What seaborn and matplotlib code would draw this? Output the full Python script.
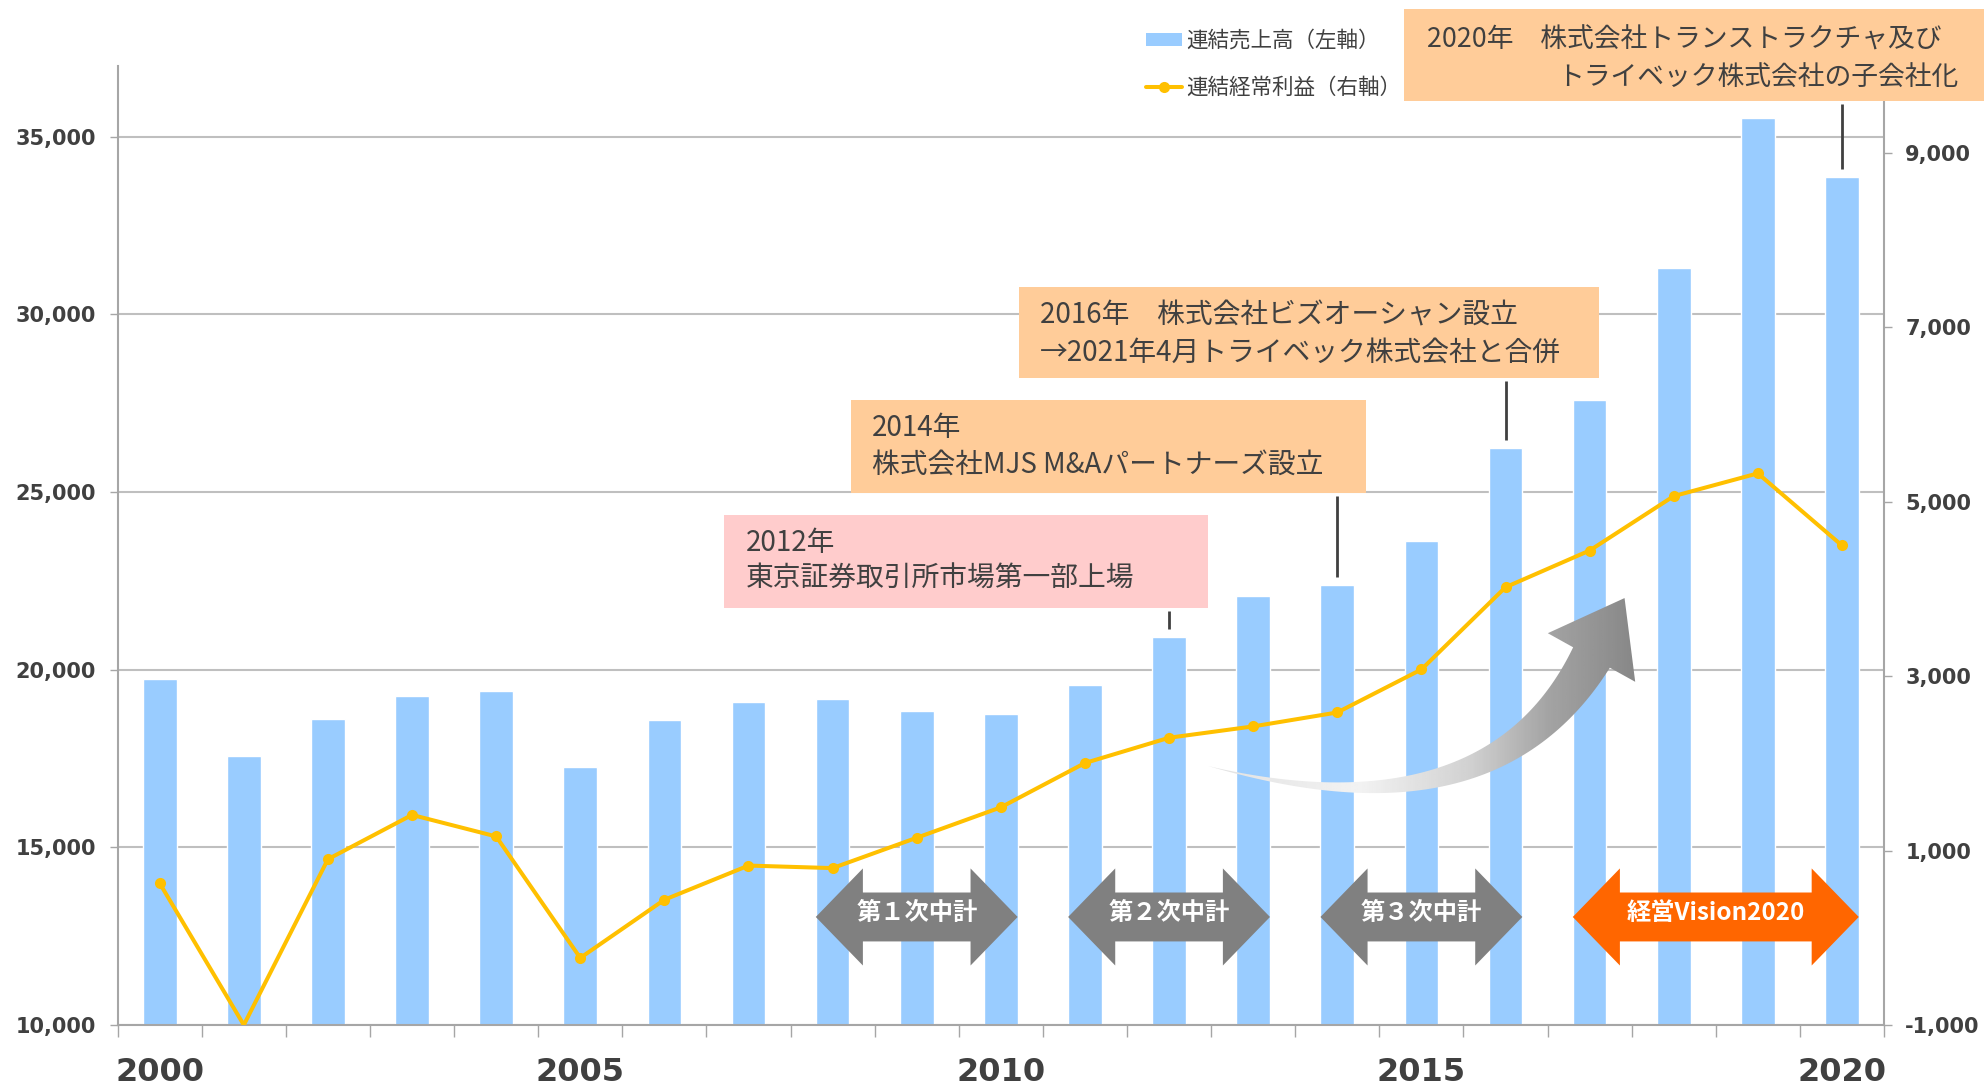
import matplotlib.pyplot as plt
import matplotlib.transforms as mtransforms
import numpy as np
import seaborn as sns
from matplotlib.lines import Line2D
from matplotlib.patches import Patch, Polygon, Rectangle

# データ
years = [str(y) for y in range(2000, 2021)]
sales = [19750, 17580, 18610, 19250, 19400, 17260, 18580, 19080, 19180, 18830, 18750,
         19570, 20930, 22070, 22390, 23630, 26230, 27580, 31320, 35520, 33880]
profit = [625, -1000, 901, 1409, 1162, -231, 436, 828, 799, 1147, 1496,
          2004, 2294, 2424, 2584, 3077, 4020, 4441, 5065, 5326, 4499]
sales_ticks = [10000, 15000, 20000, 25000, 30000, 35000]
profit_ticks = [-1000, 1000, 3000, 5000, 7000, 9000]
year_labels = years[::5]

plan_names = ['第１次中計', '第２次中計', '第３次中計', '経営Vision2020']
plan_start = [2008, 2011, 2014, 2017]
plan_end = [2010, 2013, 2016, 2020]
plan_colors = ['#808080', '#808080', '#808080', '#FF6600']

event_years = [2012, 2014, 2016, 2020]
event_lines = [
    ('2012年', '東京証券取引所市場第一部上場'),
    ('2014年', '株式会社MJS M&Aパートナーズ設立'),
    ('2016年　株式会社ビズオーシャン設立', '→2021年4月トライベック株式会社と合併'),
    ('2020年　株式会社トランストラクチャ及び', 'トライベック株式会社の子会社化'),
]
event_colors = ['#FFCCCC', '#FFCC99', '#FFCC99', '#FFCC99']

BAR = '#99CCFF'
LINE = '#FFC000'
TXT = '#404040'
AXC = '#A6A6A6'

sns.set_theme(style='white')
plt.rcParams['font.family'] = ['Noto Sans CJK JP', 'DejaVu Sans']

W, H = 1984, 1086
fig = plt.figure(figsize=(W / 100, H / 100), dpi=100)
ax = fig.add_axes([0.0593, 0.0562, 0.8903, 0.8832])

# 売上高（棒）
sns.barplot(x=years, y=sales, color=BAR, saturation=1, width=0.4, errorbar=None, ax=ax, zorder=2)
ax.set_ylim(10000, 37000)

# 経常利益（折れ線、右軸）
ax2 = ax.twinx()
sns.lineplot(x=np.arange(len(years)), y=profit, ax=ax2, color=LINE, linewidth=2.9,
             marker='o', markersize=8, markeredgewidth=0,
             markevery=[i for i in range(len(years)) if profit[i] > -1000])
ax2.set_ylim(-1000, 10000)
ax.set_xlim(-0.5, len(years) - 0.5)
ax2.set_zorder(ax.get_zorder() + 1)
ax2.patch.set_visible(False)

# 軸
tick_font = dict(fontfamily='DejaVu Sans', fontweight='bold', color=TXT)
ax.set_yticks(sales_ticks)
ax.set_yticklabels([f'{v:,}' for v in sales_ticks], fontsize=15, **tick_font)
ax2.set_yticks(profit_ticks)
ax2.set_yticklabels([f'{v:,}' for v in profit_ticks], fontsize=15, **tick_font)
ax.set_xticks(range(0, len(years), 5))
ax.set_xticklabels(year_labels, fontsize=23, **tick_font)
ax.set_xticks(np.arange(-0.5, len(years)), minor=True)
ax.tick_params(axis='x', which='major', length=0, pad=23)
ax.tick_params(axis='x', which='minor', bottom=True, length=8.6, width=1, color=AXC)
ax.tick_params(axis='y', left=True, length=5.8, width=1, color=AXC, pad=10)
ax2.tick_params(axis='y', right=True, length=5.8, width=1, color=AXC, pad=9.5)
ax.yaxis.grid(True, color='#BFBFBF', linewidth=1.5)
ax.set_axisbelow(True)
for a in (ax, ax2):
    a.set_xlabel('')
    a.set_ylabel('')
ax.spines['top'].set_visible(False)
ax.spines['right'].set_visible(False)
for s in ('top', 'left', 'bottom'):
    ax2.spines[s].set_visible(False)
for s in ('left', 'bottom'):
    ax.spines[s].set_color(AXC)
    ax.spines[s].set_linewidth(1.5)
ax2.spines['right'].set_color(AXC)
ax2.spines['right'].set_linewidth(1.5)

# 凡例
handles = [Patch(facecolor=BAR, edgecolor='none'),
           Line2D([0], [0], color=LINE, lw=2.9, marker='o', ms=8, mew=0)]
ax2.legend(handles, ['連結売上高（左軸）', '連結経常利益（右軸）'], loc='upper left',
           bbox_to_anchor=(1146 / W, 1 - 30 / H), bbox_transform=fig.transFigure,
           frameon=False, fontsize=15.5, labelcolor=TXT, handlelength=1.65,
           handleheight=0.6, handletextpad=0.2, labelspacing=1.15,
           borderpad=0, borderaxespad=0)

# 中期計画の矢印
blend = mtransforms.blended_transform_factory(ax.transData, ax.transAxes)
yc, hh, sh, hl = 0.1126, 0.0506, 0.0255, 0.56
for name, s0, s1, col in zip(plan_names, plan_start, plan_end, plan_colors):
    x0 = s0 - 2000 - 0.2
    x1 = s1 - 2000 + 0.2
    pts = [(x0, yc), (x0 + hl, yc + hh), (x0 + hl, yc + sh), (x1 - hl, yc + sh),
           (x1 - hl, yc + hh), (x1, yc), (x1 - hl, yc - hh), (x1 - hl, yc - sh),
           (x0 + hl, yc - sh), (x0 + hl, yc - hh)]
    ax.add_patch(Polygon(pts, closed=True, facecolor=col, edgecolor='none',
                         transform=blend, zorder=6))
    ax.text((x0 + x1) / 2, yc + 0.004, name, transform=blend, ha='center', va='center',
            color='white', fontsize=17.5, fontweight='bold', zorder=7)

# 装飾用のレイヤー（ピクセル座標）
deco = fig.add_axes([0, 0, 1, 1], zorder=10)
deco.patch.set_visible(False)

# 成長を示すカーブ矢印（グラデーション）
t = np.linspace(0, 1, 100)
p0 = np.array([1208, 766])
p1 = np.array([1490, 840])
p2 = np.array([1591.5, 657.5])
c = ((1 - t) ** 2)[:, None] * p0 + (2 * t * (1 - t))[:, None] * p1 + (t ** 2)[:, None] * p2
d = (2 * (1 - t))[:, None] * (p1 - p0) + (2 * t)[:, None] * (p2 - p1)
d = d / np.linalg.norm(d, axis=1)[:, None]
n = np.column_stack([-d[:, 1], d[:, 0]])
w = 21 * t ** 1.1
upper = c - n * w[:, None]
lower = c + n * w[:, None]
tip = p2 + d[-1] * 68
pts = np.vstack([upper, p2 - n[-1] * 50, tip, p2 + n[-1] * 50, lower[::-1]])
clip = Polygon(pts, closed=True, facecolor='none', edgecolor='none')
deco.add_patch(clip)
xs = np.linspace(1200, 1660, 200)
vals = np.interp(xs, [1200, 1360, 1470, 1550, 1660], [0.88, 0.95, 0.82, 0.64, 0.50])
im = deco.imshow(np.tile(vals, (2, 1)), cmap='gray', vmin=0, vmax=1,
                 extent=(1200, 1660, 820, 580), aspect='auto', interpolation='bilinear')
im.set_clip_path(clip)

# 出来事の吹き出し
boxes = [(724, 515, 1208, 608), (851, 400, 1366, 493), (1019, 287, 1599, 378), (1404, 9, 1990, 101)]
text_pos = [((746, 543), (746, 578)), ((872, 428), (872, 465)),
            ((1040, 315), (1040, 353)), ((1427, 40), (1557, 77))]
text_size = [20, 20, 20, 19.3]
for yr, lines, col, (bx0, by0, bx1, by1), tp, fs in zip(event_years, event_lines, event_colors,
                                                        boxes, text_pos, text_size):
    deco.add_patch(Rectangle((bx0, by0), bx1 - bx0, by1 - by0, facecolor=col, edgecolor='none'))
    for s, (tx, ty) in zip(lines, tp):
        deco.text(tx, ty, s, fontsize=fs, color=TXT, ha='left', va='center')
    i = years.index(str(yr))
    px, py = ax.transData.transform((i, sales[i]))
    deco.plot([px, px], [by1 + 3, H - py - 8], color=TXT, lw=2, solid_capstyle='butt')

deco.set_xlim(0, W)
deco.set_ylim(H, 0)
deco.axis('off')

fig.savefig('out.png', dpi=100)
